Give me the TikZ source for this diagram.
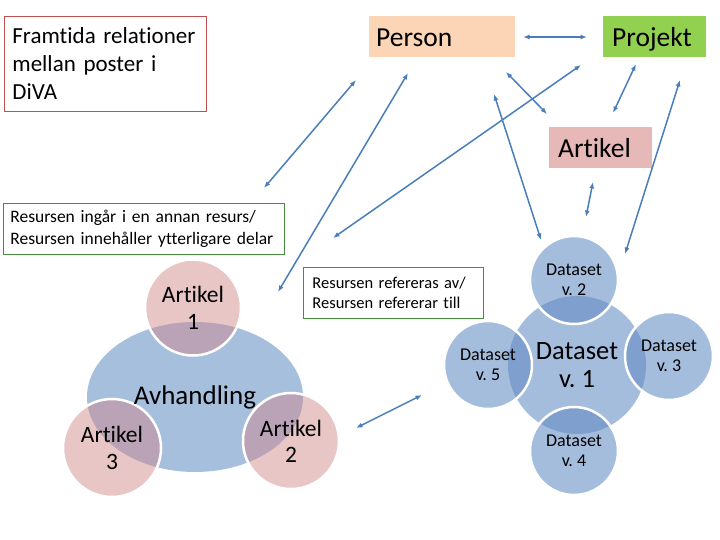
\documentclass[tikz,border=0pt]{standalone}
\usepackage{fontspec}
\setmainfont{Carlito}[Ligatures=NoCommon]
\usetikzlibrary{arrows.meta,shapes.geometric}
\pgfdeclarelayer{bg}
\pgfsetlayers{bg,main}
\definecolor{peach}{HTML}{FBD5B5}
\definecolor{projgreen}{HTML}{92D050}
\definecolor{artpink}{HTML}{E6B9B8}
\definecolor{boxred}{HTML}{C0504D}
\definecolor{boxgreen}{HTML}{4A8C3F}
\definecolor{arrowblue}{HTML}{4A7EBB}
\definecolor{venblue}{HTML}{A6BFDD}
\definecolor{venpink}{HTML}{E8C6C6}
\definecolor{venmauve}{HTML}{BAA3B6}
\definecolor{dsblue}{HTML}{A5BDDD}
\definecolor{dsdark}{HTML}{7F9FCF}
\tikzset{
  topbox/.style={anchor=north west, inner ysep=0pt, minimum height=41pt, align=left,
    text height=19.5pt, text depth=0pt, font=\fontsize{27.5}{32}\selectfont},
  notebox/.style={anchor=north west, inner ysep=0pt, align=left, line width=0.8pt},
  conn/.style={draw=arrowblue, line width=1.5pt,
    {Latex[length=6.5pt,width=5pt]}-{Latex[length=6.5pt,width=5pt]}},
  vtext/.style={align=center, inner sep=0pt},
  ring/.style={draw=white, line width=2.5pt}
}
\begin{document}
\begin{tikzpicture}[x=1pt,y=-1pt]
\useasboundingbox (0,0) rectangle (720,540);

% --- top boxes
\node[notebox, draw=boxred, inner xsep=8pt, text width=186pt, minimum height=95pt,
  font=\fontsize{23}{28}\selectfont] (title) at (4,16)
  {Framtida~relationer\\mellan~poster~i\\DiVA};
\node[topbox, fill=peach, inner xsep=7pt, text width=132pt] (person) at (369,16) {Person};
\node[topbox, fill=projgreen, inner xsep=9pt, text width=85pt] (projekt) at (603,16) {Projekt};
\node[topbox, fill=artpink, inner xsep=9pt, text width=85pt] (artikel) at (549,127) {Artikel};

% --- note boxes
\node[notebox, draw=boxgreen, inner xsep=7pt, text width=267pt, minimum height=51pt,
  font=\fontsize{17.5}{22}\selectfont] (ingar) at (3,203)
  {Resursen~ingår~i~en~annan~resurs/\\Resursen~innehåller~ytterligare~delar};
\node[notebox, draw=boxgreen, inner xsep=9pt, text width=162pt, minimum height=51pt,
  font=\fontsize{16.5}{20}\selectfont] (refer) at (303,267)
  {Resursen~refereras~av/\\Resursen~refererar~till};

% --- Avhandling venn (text nodes)
\node[ellipse, vtext, minimum width=216pt, minimum height=150pt,
  font=\fontsize{27}{32}\selectfont] (avh) at (195,397) {Avhandling};
\node[circle, vtext, minimum size=96pt, font=\fontsize{23.5}{27}\selectfont] (a1) at (193,307.5) {Artikel\\1};
\node[circle, vtext, minimum size=98pt, font=\fontsize{23.5}{27}\selectfont] (a3) at (112,448) {Artikel\\3};
\node[circle, vtext, minimum size=96pt, font=\fontsize{23.5}{26}\selectfont] (a2) at (291,441) {Artikel\\2};

% --- Dataset group (text nodes)
\node[circle, vtext, minimum size=138pt, font=\fontsize{26.5}{28}\selectfont] (d1) at (577,365) {Dataset\\v.~1};
\node[circle, vtext, minimum size=88pt, font=\fontsize{18}{20}\selectfont] (d2) at (574,280) {Dataset\\v.~2};
\node[circle, vtext, minimum size=88pt, font=\fontsize{18}{20}\selectfont] (d3) at (669,356) {Dataset\\v.~3};
\node[circle, vtext, minimum size=88pt, font=\fontsize{18}{20}\selectfont] (d4) at (574,451) {Dataset\\v.~4};
\node[circle, vtext, minimum size=88pt, font=\fontsize{18}{20}\selectfont] (d5) at (488,365) {Dataset\\v.~5};

% --- fills behind the texts
\begin{pgfonlayer}{bg}
  \fill[venblue] (avh.center) ellipse [x radius=108, y radius=75];
  \foreach \n/\r in {a1/48, a3/49, a2/48} {
    \fill[venpink] (\n.center) circle [radius=\r];
    \begin{scope}
      \clip (avh.center) ellipse [x radius=108, y radius=75];
      \fill[venmauve] (\n.center) circle [radius=\r];
    \end{scope}
    \draw[ring] (\n.center) circle [radius=\r];
  }
  \fill[dsblue] (d1.center) circle [radius=69];
  \foreach \n in {d2, d3, d4, d5} {
    \fill[dsblue] (\n.center) circle [radius=44];
    \begin{scope}
      \clip (d1.center) circle [radius=69];
      \fill[dsdark] (\n.center) circle [radius=44];
    \end{scope}
    \draw[ring] (\n.center) circle [radius=44];
  }
\end{pgfonlayer}

% --- connector end points
\coordinate (e1a) at (264,188);  \coordinate (e1b) at (356,80);
\coordinate (e2a) at (278,292);  \coordinate (e2b) at (408,73);
\coordinate (e3a) at (333,238);  \coordinate (e3b) at (581,65);
\coordinate (e4a) at (523,37);   \coordinate (e4b) at (587,37);
\coordinate (e5a) at (506,72);   \coordinate (e5b) at (547,114);
\coordinate (e6a) at (636,64);   \coordinate (e6b) at (613,113);
\coordinate (e7a) at (494,94);   \coordinate (e7b) at (541,240);
\coordinate (e8a) at (680,80);   \coordinate (e8b) at (625,254);
\coordinate (e9a) at (593,182);  \coordinate (e9b) at (586,217);
\coordinate (e10a) at (356,428); \coordinate (e10b) at (422,395);

\foreach \i in {1,...,10} {
  \draw[conn] (e\i a) -- (e\i b);
}
\end{tikzpicture}
\end{document}
